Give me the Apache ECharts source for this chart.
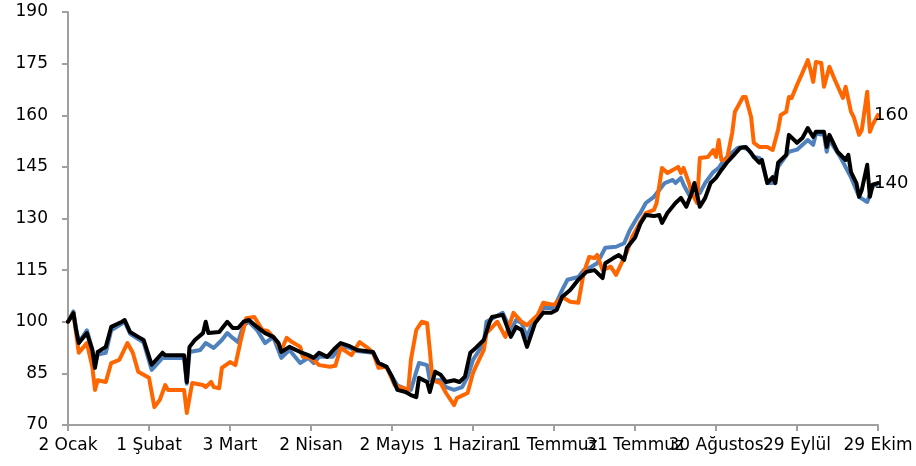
<!DOCTYPE html>
<html>
<head>
<meta charset="utf-8">
<title>Endeks</title>
<script src="https://cdn.jsdelivr.net/npm/echarts@6/dist/echarts.min.js"></script>
<style>
  html, body { margin: 0; padding: 0; background: #fff; }
  #chart { width: 916px; height: 466px; }
</style>
</head>
<body>
<div id="chart"></div>
<script>
  // x ekseni: 2 Ocak'tan itibaren gün, her 30 günde bir etiket
  const tickLabels = ['2 Ocak', '1 Şubat', '3 Mart', '2 Nisan', '2 Mayıs', '1 Haziran',
    '1 Temmuz', '31 Temmuz', '30 Ağustos', '29 Eylül', '29 Ekim']

  // [gün, değer]
  const blueSeries = [
    [0, 100], [2, 103], [3, 98], [4, 94], [7, 97.5], [9, 92], [10, 87.5], [11, 90.5], [14, 91],
    [16, 97.5], [20, 99.5], [21, 100], [23, 96.5], [26, 95], [28, 94], [31, 86], [35, 89.5],
    [43, 89.5], [44, 82], [45, 91.2], [49, 91.8], [51, 93.8], [54, 92.4], [57, 94.7], [59, 96.7],
    [61, 95.3], [63, 94.1], [65, 99], [67, 100], [70, 97.6], [73, 93.8], [76, 95.6], [79, 89.5],
    [82, 91.8], [86, 88], [89, 89.5], [91, 88], [93, 89.8], [98, 89.8], [101, 92.7], [104, 92.5],
    [107, 91.5], [113, 91], [115, 88], [118, 86.9], [120, 84], [122, 81.5], [125, 80.5], [127, 80.2],
    [129, 85.5], [130, 88], [133, 87.4], [134, 83], [138, 83], [140, 81], [143, 80.2], [146, 81],
    [148, 84], [150, 88.9], [154, 93.8], [155, 100], [161, 102.6], [164, 97.6], [166, 100.5],
    [168, 99.6], [170, 95.6], [172, 99.6], [176, 104], [180, 104], [183, 109.2], [185, 112.2],
    [189, 113], [191, 115], [193, 115.6], [196, 117], [199, 121.5], [203, 121.8], [206, 122.8],
    [208, 126.5], [211, 130.5], [212, 131.6], [214, 134.5], [217, 136.3], [219, 138.3], [221, 140.3],
    [224, 141.2], [225, 140.3], [227, 141.8], [228, 139.8], [230, 136.9], [232, 139.2], [234, 137.4],
    [236, 140.3], [239, 143.5], [241, 144.7], [243, 147], [245, 148.5], [248, 150.5], [250, 150.8],
    [252, 149.9], [254, 147.9], [256, 147.6], [257, 146.5], [259, 140.3], [261, 140.3], [263, 145],
    [267, 149.4], [270, 150], [274, 152.8], [276, 151.4], [277, 154.6], [280, 154.3], [281, 149.4],
    [282, 152.8], [286, 147.9], [290, 142], [293, 136.3], [296, 134.8], [298, 139.2], [300, 140.3]
  ]

  const orangeSeries = [
    [0, 100], [2, 102.5], [3, 96.7], [4, 91], [7, 93.8], [9, 86.9], [10, 80.2], [11, 83], [14, 82.5],
    [16, 88], [19, 88.9], [22, 93.8], [24, 91], [26, 85.5], [30, 83.7], [32, 75.2], [34, 77.3],
    [36, 81.6], [37, 80.2], [43, 80.2], [44, 73.5], [46, 82.2], [50, 81.6], [51, 81], [53, 82.5],
    [54, 81], [56, 80.7], [57, 86.6], [60, 88.3], [62, 87.4], [64, 94.7], [66, 101], [69, 101.4],
    [72, 97.6], [74, 97.3], [77, 94.7], [79, 91.8], [81, 95.3], [83, 94.1], [86, 92.7], [87, 89.8],
    [90, 89.5], [93, 87.4], [97, 86.9], [99, 87.2], [101, 92.4], [105, 90.3], [108, 94.1], [111, 92.4],
    [113, 91], [115, 86.6], [118, 86.9], [121, 81.6], [126, 80.2], [127, 88.9], [129, 97.6],
    [131, 100], [133, 99.6], [134, 91.8], [135, 83], [138, 82.2], [140, 79.3], [143, 75.8],
    [144, 77.8], [148, 79.3], [150, 85.1], [151, 86.9], [154, 91.8], [155, 96.7], [159, 100],
    [162, 95.6], [165, 102.6], [168, 100], [170, 99], [174, 102], [176, 105.5], [180, 104.9],
    [183, 107.2], [186, 105.8], [189, 105.5], [191, 114.2], [193, 118.8], [195, 118.5], [196, 119.4],
    [198, 115], [201, 116], [203, 113.6], [205, 117], [207, 120.3], [209, 124.7], [212, 129],
    [214, 131.6], [217, 132.5], [218, 134.5], [220, 144.7], [222, 143.2], [224, 144.1], [226, 145],
    [227, 143.2], [228, 144.7], [230, 140.3], [231, 137.4], [233, 134.5], [234, 147.6], [237, 147.9],
    [239, 149.9], [240, 147.9], [241, 152.8], [242, 147], [244, 147], [246, 154.9], [247, 161],
    [248, 162.4], [250, 165.3], [251, 165.3], [253, 159.5], [254, 152], [256, 150.8], [259, 150.8],
    [261, 149.9], [263, 155.8], [264, 160.1], [266, 161], [267, 165.3], [268, 165], [270, 168.8],
    [272, 172.3], [274, 176], [275, 173.2], [276, 169.7], [277, 175.5], [279, 175.2], [280, 168.3],
    [282, 174.1], [284, 170.3], [287, 165], [288, 168.3], [290, 161], [291, 159.5], [293, 154.3],
    [294, 155.7], [296, 166.8], [297, 155.2], [298, 157.2], [300, 160.1]
  ]

  const blackSeries = [
    [0, 100], [2, 102.5], [3, 97.6], [4, 93.8], [7, 96.7], [9, 91.8], [10, 86.6], [11, 91.2],
    [14, 92.7], [16, 98.5], [20, 100], [21, 100.5], [23, 97], [26, 95.6], [28, 94.7], [31, 87.5],
    [35, 91], [36, 90.3], [43, 90.3], [44, 82.5], [45, 92.7], [47, 94.7], [50, 96.7], [51, 100],
    [52, 96.7], [56, 97], [59, 100], [61, 98.2], [63, 98.2], [65, 100], [67, 100.5], [70, 98.5],
    [73, 96.7], [76, 95.6], [78, 93.8], [79, 91.2], [82, 92.7], [86, 91.2], [89, 90.3], [91, 89.5],
    [93, 91], [96, 89.8], [99, 92.4], [101, 93.8], [104, 93], [107, 91.8], [113, 91.2], [115, 88],
    [118, 86.9], [120, 84], [122, 80.2], [125, 79.6], [127, 78.7], [129, 78.1], [130, 83.7],
    [133, 82.5], [134, 79.6], [136, 85.5], [138, 84.6], [140, 82.5], [143, 83], [145, 82.5],
    [147, 84], [149, 91], [151, 92.4], [154, 94.7], [156, 99.6], [157, 101.4], [161, 102],
    [164, 95.6], [166, 98.5], [168, 97.6], [170, 92.7], [173, 99.6], [176, 102.6], [179, 102.6],
    [181, 103.4], [183, 107.2], [186, 109.2], [189, 112.2], [192, 114.5], [195, 115], [198, 112.7],
    [199, 117], [202, 118.5], [204, 119.4], [206, 118], [207, 121.5], [210, 124.4], [212, 128.5],
    [214, 131], [217, 130.7], [219, 131], [220, 128.7], [222, 131.6], [225, 134.5], [227, 136],
    [229, 133.4], [231, 137.4], [232, 140.3], [234, 133.4], [236, 136], [238, 140.3], [240, 141.8],
    [242, 144.1], [244, 146.2], [246, 147.9], [249, 150.5], [251, 150.8], [253, 149.1], [254, 147.9],
    [256, 146.2], [257, 147], [259, 140.3], [261, 142], [262, 140.3], [263, 146.2], [266, 148.5],
    [267, 154.3], [270, 152], [272, 153.4], [274, 156.3], [276, 153.7], [277, 155.2], [280, 155.2],
    [281, 150.8], [282, 154.3], [285, 149.4], [288, 147], [289, 148.5], [290, 143.5], [292, 140.3],
    [293, 136.3], [294, 138.3], [296, 145.6], [297, 136.3], [298, 139.8], [300, 140.3]
  ]

  const endLabels = { orange: '160', black: '140' }

  const fontFamily = 'DejaVu Sans'

  const lineSeries = (name, data, color, label) => ({
    name: name,
    type: 'line',
    data: data,
    showSymbol: false,
    symbol: 'none',
    lineStyle: { color: color, width: 4, cap: 'round', join: 'round' },
    itemStyle: { color: color },
    endLabel: {
      show: !!label,
      formatter: () => label,
      color: '#000',
      fontFamily: fontFamily,
      fontSize: 18,
      distance: -4
    }
  })

  const chart = echarts.init(document.getElementById('chart'))

  chart.setOption({
    animation: false,
    grid: { left: 68, right: 38, top: 12, bottom: 41 },
    xAxis: {
      type: 'value',
      min: 0,
      max: 300,
      interval: 30,
      splitLine: { show: false },
      axisLine: { lineStyle: { color: '#a0a0a0', width: 2 } },
      axisTick: { length: 6, lineStyle: { color: '#a0a0a0', width: 2 } },
      axisLabel: {
        color: '#000',
        fontFamily: fontFamily,
        fontSize: 17,
        margin: 12,
        formatter: value => tickLabels[Math.round(value / 30)] || ''
      }
    },
    yAxis: {
      type: 'value',
      min: 70,
      max: 190,
      interval: 15,
      splitLine: { show: false },
      axisLine: { show: true, lineStyle: { color: '#a0a0a0', width: 2 } },
      axisTick: { show: true, length: 6, lineStyle: { color: '#a0a0a0', width: 2 } },
      axisLabel: {
        color: '#000',
        fontFamily: fontFamily,
        fontSize: 17,
        margin: 20
      }
    },
    series: [
      lineSeries('Mavi', blueSeries, '#4f81bd', ''),
      lineSeries('Turuncu', orangeSeries, '#ff6600', endLabels.orange),
      lineSeries('Siyah', blackSeries, '#000000', endLabels.black)
    ]
  })

  window.addEventListener('resize', () => {
    chart && chart.resize()
  })
</script>
</body>
</html>
